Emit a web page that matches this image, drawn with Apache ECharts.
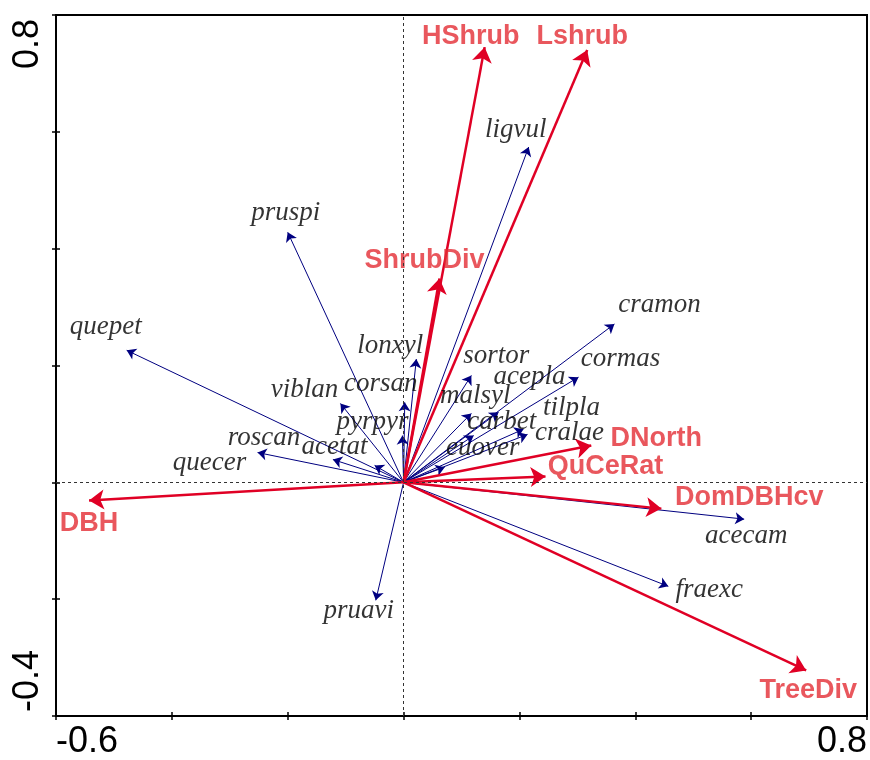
<!DOCTYPE html>
<html>
<head>
<meta charset="utf-8">
<script src="https://cdn.jsdelivr.net/npm/echarts@6.0.0/dist/echarts.min.js"></script>
<style>
    html, body { margin: 0; padding: 0; background: #fff; }
    #chart { width: 870px; height: 760px; }
</style>
</head>
<body>
<div id="chart"></div>
<script>
    // species scores (arrow tips)
    let speciesNames = ['ligvul', 'pruspi', 'quepet', 'cramon', 'cormas', 'lonxyl', 'sortor', 'acepla',
        'malsyl', 'carbet', 'tilpla', 'cralae', 'euover', 'viblan', 'corsan', 'pyrpyr',
        'roscan', 'acetat', 'quecer', 'pruavi', 'acecam', 'fraexc'];
    let speciesX = [0.216, -0.200, -0.478, 0.364, 0.302, 0.022, 0.117, 0.164,
        0.117, 0.121, 0.207, 0.214, 0.071, -0.109, 0.002, -0.002,
        -0.122, -0.050, -0.252, -0.048, 0.588, 0.457];
    let speciesY = [0.574, 0.428, 0.226, 0.271, 0.180, 0.211, 0.183, 0.120,
        0.118, 0.080, 0.091, 0.082, 0.026, 0.135, 0.137, 0.080,
        0.039, 0.029, 0.051, -0.202, -0.063, -0.178];

    // environmental variables
    let envNames = ['HShrub', 'Lshrub', 'ShrubDiv', 'DNorth', 'QuCeRat', 'DomDBHcv', 'TreeDiv', 'DBH'];
    let envX = [0.140, 0.317, 0.062, 0.324, 0.245, 0.445, 0.695, -0.543];
    let envY = [0.745, 0.740, 0.349, 0.063, 0.010, -0.045, -0.322, -0.031];

    // only the end ticks carry a label
    let xTickLabels = [-0.6, 0.8];
    let yTickLabels = [-0.4, 0.8];

    // label placement relative to the arrow tip, in pixels
    let speciesLabelOffset = [[-13, -17], [-2, -19], [-21, -23], [45, -19], [42, -18], [-26, -13], [25, -20], [31, -35],
        [4, -17], [28, -14], [48, -21], [42, -2], [38, -19], [-36, -14], [-24, -18], [-30, -14],
        [-69, -22], [-40, -18], [-48, 10], [-17, 11], [2, 17], [41, 4]];
    let envLabelOffset = [[-14, -11], [-5, -14], [-15, -18], [65, -7], [60, -10], [88, -11], [2, 20], [0, 23]];

    let blue = '#000080';
    let red = '#e00025';
    let redText = '#e42d35';

    let chart = echarts.init(document.getElementById('chart'));

    function tickFormatter(list) {
        return function (v) {
            for (let i = 0; i < list.length; i++) {
                if (Math.abs(v - list[i]) < 1e-9) return String(list[i]);
            }
            return '';
        };
    }

    let speciesLines = [];
    let speciesLabels = [];
    for (let i = 0; i < speciesNames.length; i++) {
        speciesLines.push({coords: [[0, 0], [speciesX[i], speciesY[i]]]});
        speciesLabels.push({
            name: speciesNames[i],
            value: [speciesX[i], speciesY[i]],
            label: {offset: speciesLabelOffset[i]}
        });
    }
    let envLines = [];
    let envLabels = [];
    for (let i = 0; i < envNames.length; i++) {
        envLines.push({coords: [[0, 0], [envX[i], envY[i]]]});
        envLabels.push({
            name: envNames[i],
            value: [envX[i], envY[i]],
            label: {offset: envLabelOffset[i]}
        });
    }

    let axisCommon = {
        type: 'value',
        interval: 0.2,
        splitLine: {show: false},
        axisLine: {show: true, onZero: false, lineStyle: {color: '#000', width: 2}},
        axisTick: {show: true, length: 4, lineStyle: {color: '#000', width: 1.5}}
    };
    // second copy of each axis only draws the inner half of the ticks
    let innerTicks = {
        axisLine: {show: false, onZero: false},
        axisTick: {show: true, inside: true, length: 4, lineStyle: {color: '#000', width: 1.5}},
        axisLabel: {show: false}
    };

    let option = {
        animation: false,
        backgroundColor: '#fff',
        grid: {
            left: 56,
            right: 2,
            top: 15,
            bottom: 44,
            show: true,
            borderColor: '#000',
            borderWidth: 2
        },
        xAxis: [
            Object.assign({}, axisCommon, {
                min: -0.6, max: 0.8, position: 'bottom',
                axisLabel: {
                    show: true, color: '#000', fontSize: 36, fontFamily: 'Liberation Sans', margin: 8,
                    showMinLabel: true, showMaxLabel: true,
                    alignMinLabel: 'left', alignMaxLabel: 'right',
                    formatter: tickFormatter(xTickLabels)
                }
            }),
            Object.assign({}, axisCommon, innerTicks, {min: -0.6, max: 0.8, position: 'bottom'})
        ],
        yAxis: [
            Object.assign({}, axisCommon, {
                min: -0.4, max: 0.8, position: 'left',
                axisLabel: {
                    show: true, color: '#000', fontSize: 36, fontFamily: 'Liberation Sans', margin: 10,
                    rotate: 90,
                    showMinLabel: true, showMaxLabel: true,
                    alignMinLabel: 'left', alignMaxLabel: 'right',
                    padding: [0, 4, 0, 4],
                    formatter: tickFormatter(yTickLabels)
                }
            }),
            Object.assign({}, axisCommon, innerTicks, {min: -0.4, max: 0.8, position: 'left'})
        ],
        series: [
            {
                // dotted zero lines
                type: 'scatter',
                data: [],
                silent: true,
                markLine: {
                    silent: true,
                    symbol: ['none', 'none'],
                    label: {show: false},
                    lineStyle: {type: [3, 3], color: '#333', width: 1},
                    data: [{xAxis: 0}, {yAxis: 0}]
                }
            },
            {
                type: 'lines',
                coordinateSystem: 'cartesian2d',
                silent: true,
                symbol: ['none', 'arrow'],
                symbolSize: 9,
                lineStyle: {color: blue, width: 1, opacity: 1},
                itemStyle: {color: blue},
                data: speciesLines
            },
            {
                type: 'lines',
                coordinateSystem: 'cartesian2d',
                silent: true,
                symbol: ['none', 'arrow'],
                symbolSize: 15,
                lineStyle: {color: red, width: 2.5, opacity: 1},
                itemStyle: {color: red},
                data: envLines
            },
            {
                type: 'scatter',
                silent: true,
                symbolSize: 1,
                itemStyle: {color: 'transparent'},
                label: {
                    show: true,
                    position: 'inside',
                    formatter: '{b}',
                    color: '#000',
                    fontSize: 27,
                    fontStyle: 'italic',
                    fontFamily: 'Liberation Serif'
                },
                data: speciesLabels
            },
            {
                type: 'scatter',
                silent: true,
                symbolSize: 1,
                itemStyle: {color: 'transparent'},
                label: {
                    show: true,
                    position: 'inside',
                    formatter: '{b}',
                    color: redText,
                    fontSize: 27,
                    fontWeight: 'bold',
                    fontFamily: 'Liberation Sans'
                },
                data: envLabels
            }
        ]
    };
    chart.setOption(option);
</script>
</body>
</html>
